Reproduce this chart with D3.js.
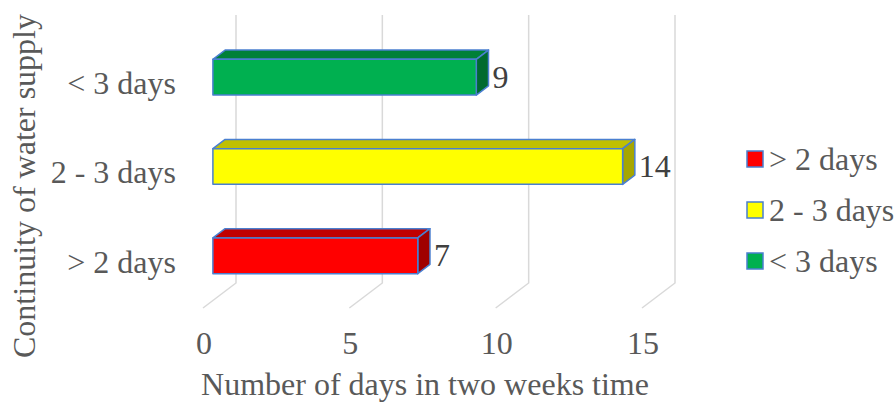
<!DOCTYPE html>
<html>
<head>
<meta charset="utf-8">
<script src="https://cdn.jsdelivr.net/npm/d3@7/dist/d3.min.js"></script>
<style>
  html, body { margin: 0; padding: 0; background: #ffffff; }
  svg { display: block; font-family: "Liberation Serif", "Times New Roman", serif; }
</style>
</head>
<body>
<svg id="chart" width="896" height="403"></svg>
<script>
// Categories (bottom to top) and their counts
const categories = ["> 2 days", "2 - 3 days", "< 3 days"];
const values = [7, 14, 9];
const xTicks = [0, 5, 10, 15];
const xTitle = "Number of days in two weeks time";
const yTitle = "Continuity of water supply";

// Face colours per category: front, top, side
const frontColors = ["#FF0000", "#FFFF00", "#00B050"];
const topColors = ["#C00000", "#C0C000", "#008038"];
const sideColors = ["#A00000", "#A6A600", "#006A2F"];

const svg = d3.select("#chart");

// Front plane of the 3-D box; the back wall sits at a fixed depth offset
const floorY = 308, topY = 40;
const depth = { dx: 33, dy: 25 };
const barNear = 0.3, barFar = 0.67;

const x = d3.scaleLinear().domain([0, 15]).range([203, 642]);
const y = d3.scaleBand().domain(categories).range([floorY, topY])
  .paddingInner(0.6).paddingOuter(0.3);

// project a front-plane point to a given depth fraction
const P = (v, yy, d) => [x(v) + d * depth.dx, yy - d * depth.dy];

// gridlines: floor diagonal then up the back wall
svg.append("g").selectAll("polyline").data(xTicks).join("polyline")
  .attr("points", t => [P(t, floorY, 0), P(t, floorY, 1), P(t, topY, 1)].map(p => p.join(",")).join(" "))
  .attr("fill", "none").attr("stroke", "#d9d9d9").attr("stroke-width", 1.5);

// tick labels under the floor
svg.append("g").selectAll("text").data(xTicks).join("text")
  .attr("x", t => x(t) + 1).attr("y", 354)
  .attr("text-anchor", "middle").attr("font-size", 32).attr("fill", "#595959")
  .text(t => t);

// category labels
svg.append("g").selectAll("text").data(categories).join("text")
  .attr("x", 176).attr("y", c => y(c) + y.bandwidth() / 2)
  .attr("dy", "0.29em")
  .attr("text-anchor", "end").attr("font-size", 32).attr("fill", "#595959")
  .text(c => c);

// bars drawn as three faces each
const bars = svg.append("g").selectAll("g").data(categories).join("g");
const poly = pts => pts.map(p => p.join(",")).join(" ");
const edge = { stroke: "#4a7fd0", width: 1.5 };

bars.each(function (c, i) {
  const g = d3.select(this);
  const v = values[i];
  const yt = y(c), yb = y(c) + y.bandwidth();
  const faces = [
    { pts: [P(0, yt, barNear), P(v, yt, barNear), P(v, yt, barFar), P(0, yt, barFar)], fill: topColors[i] },
    { pts: [P(v, yt, barNear), P(v, yt, barFar), P(v, yb, barFar), P(v, yb, barNear)], fill: sideColors[i] },
    { pts: [P(0, yt, barNear), P(v, yt, barNear), P(v, yb, barNear), P(0, yb, barNear)], fill: frontColors[i] }
  ];
  g.selectAll("polygon").data(faces).join("polygon")
    .attr("points", f => poly(f.pts))
    .attr("fill", f => f.fill)
    .attr("stroke", edge.stroke).attr("stroke-width", edge.width)
    .attr("stroke-linejoin", "round");
});

// value labels at the end of each bar
svg.append("g").selectAll("text").data(categories).join("text")
  .attr("x", (c, i) => P(values[i], 0, barFar)[0] + 4)
  .attr("y", c => P(0, y(c) + y.bandwidth() / 2, barNear)[1])
  .attr("dy", "0.33em")
  .attr("font-size", 32).attr("fill", "#404040")
  .text((c, i) => values[i]);

// axis titles
svg.append("text")
  .attr("x", 425).attr("y", 395)
  .attr("text-anchor", "middle").attr("font-size", 32).attr("fill", "#595959")
  .text(xTitle);

svg.append("text")
  .attr("transform", "translate(35,186) rotate(-90)")
  .attr("text-anchor", "middle").attr("font-size", 32).attr("fill", "#595959")
  .text(yTitle);

// legend
const legend = svg.append("g").selectAll("g").data(categories).join("g")
  .attr("transform", (c, i) => `translate(747,${159 + i * 51})`);
legend.append("rect")
  .attr("x", 0).attr("y", -8).attr("width", 16).attr("height", 16)
  .attr("fill", (c, i) => frontColors[i])
  .attr("stroke", edge.stroke).attr("stroke-width", 1.5);
legend.append("text")
  .attr("x", 22).attr("y", 0).attr("dy", "0.33em")
  .attr("font-size", 32).attr("fill", "#595959")
  .text(c => c);
</script>
</body>
</html>
